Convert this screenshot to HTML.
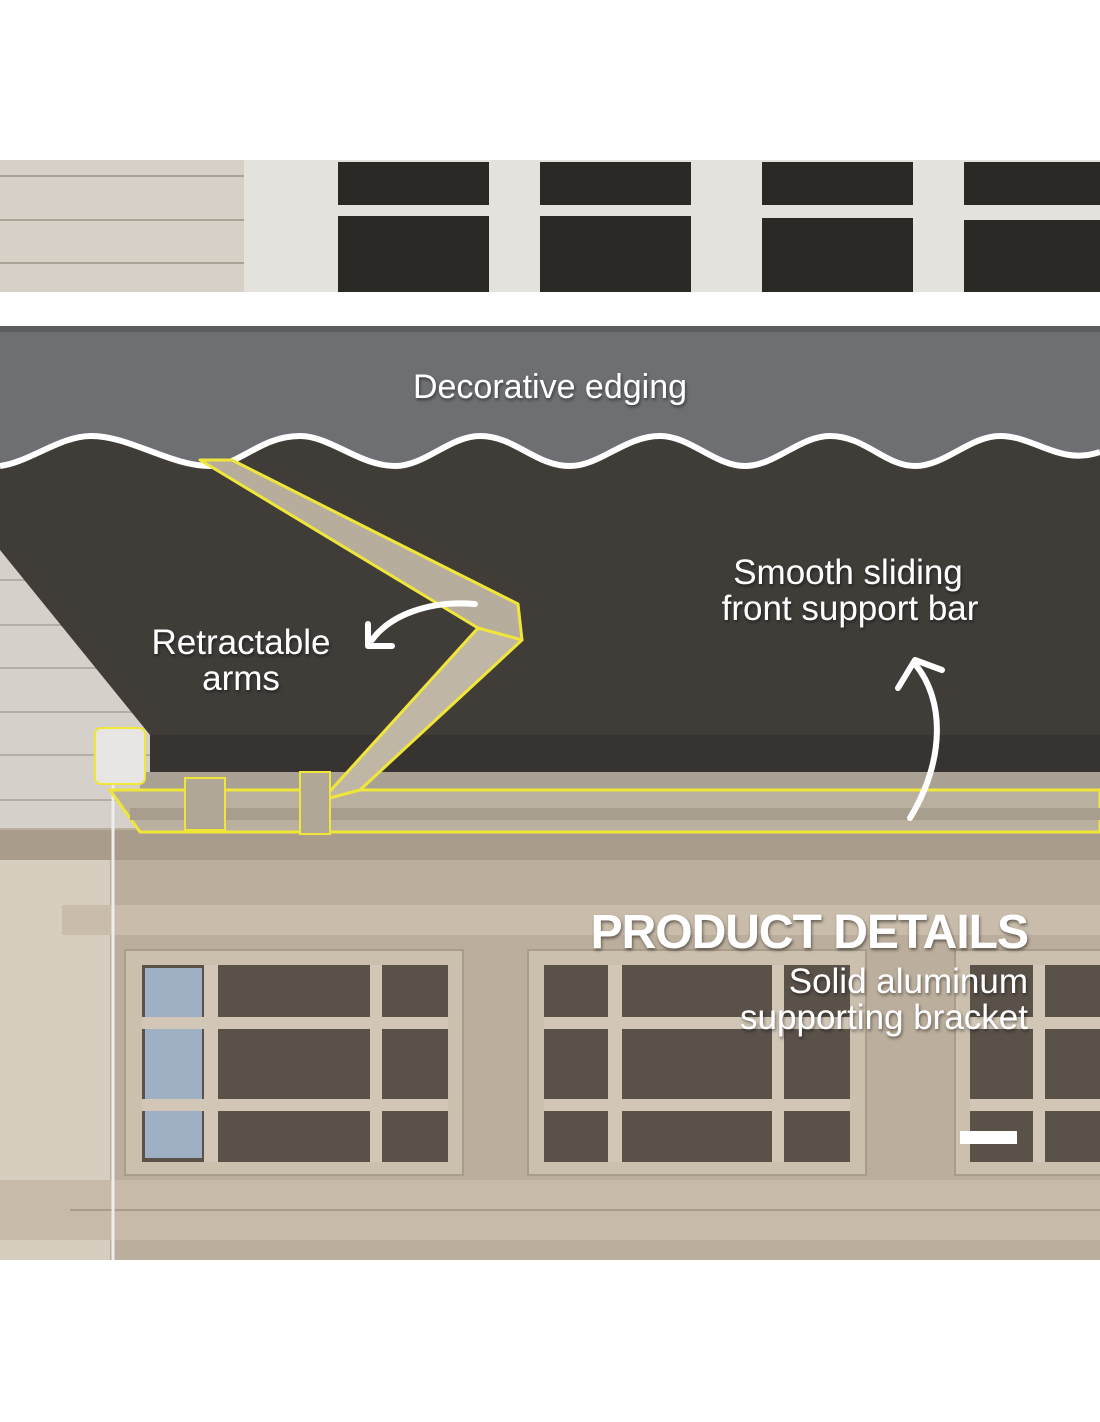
<!DOCTYPE html>
<html><head><meta charset="utf-8"><style>
html,body{margin:0;padding:0;background:#fff;}
svg{display:block}
text{font-family:"Liberation Sans",sans-serif;fill:#fff}
</style></head><body>
<svg width="1100" height="1422" viewBox="0 0 1100 1422" xmlns="http://www.w3.org/2000/svg">
<defs>
<filter id="sh" x="-10%" y="-10%" width="120%" height="140%"><feDropShadow dx="1" dy="2" stdDeviation="1.5" flood-color="#000" flood-opacity="0.5"/></filter>
</defs>
<rect x="0" y="0" width="1100" height="1422" fill="#fff"/>
<!-- top strip -->
<rect x="0" y="160" width="1100" height="132" fill="#e4e2dd"/>
<rect x="0" y="160" width="244" height="132" fill="#d6d0c6"/>
<g stroke="#a9a296" stroke-width="2"><line x1="0" y1="176" x2="244" y2="176"/><line x1="0" y1="220" x2="244" y2="220"/><line x1="0" y1="263" x2="244" y2="263"/></g>
<g fill="#2a2925">
<rect x="338" y="162" width="151" height="43"/><rect x="338" y="216" width="151" height="77"/>
<rect x="540" y="162" width="151" height="43"/><rect x="540" y="216" width="151" height="77"/>
<rect x="762" y="162" width="151" height="43"/><rect x="762" y="218" width="151" height="76"/>
<rect x="964" y="162" width="136" height="43"/><rect x="964" y="220" width="136" height="75"/>
</g>
<rect x="0" y="292" width="1100" height="34" fill="#fff"/>
<!-- siding left -->
<rect x="0" y="470" width="160" height="380" fill="#d5d1ca"/>
<g stroke="#b3ada3" stroke-width="2"><line x1="0" y1="580" x2="160" y2="580"/><line x1="0" y1="625" x2="160" y2="625"/><line x1="0" y1="668" x2="160" y2="668"/><line x1="0" y1="712" x2="160" y2="712"/><line x1="0" y1="755" x2="160" y2="755"/><line x1="0" y1="800" x2="160" y2="800"/></g>
<!-- wall below -->
<rect x="0" y="828" width="1100" height="432" fill="#bcae9c"/>
<rect x="0" y="830" width="1100" height="30" fill="#a99c8a"/>
<rect x="0" y="860" width="110" height="400" fill="#d6cebf"/>
<rect x="62" y="905" width="1038" height="30" fill="#c9bcaa"/>
<rect x="0" y="1180" width="1100" height="60" fill="#c7baa8"/>
<line x1="70" y1="1210" x2="1100" y2="1210" stroke="#a99c8a" stroke-width="2"/>
<!-- dark fabric -->
<path d="M0,430 L1100,430 L1100,772 L150,772 L150,735 L0,550 Z" fill="#403d39"/>
<rect x="150" y="735" width="950" height="37" fill="#363330"/>
<!-- valance with wave -->
<path d="M0,466 C30,462 60,436 91,436 C130,436 170,466 210,466 C240,466 260,436 300,436 C330,436 360,466 395,466 C425,466 450,436 480,436 C515,436 535,466 570,466 C600,466 625,436 660,436 C690,436 715,466 745,466 C775,466 800,436 830,436 C865,436 885,466 915,466 C945,466 970,436 1000,436 C1035,436 1060,466 1100,452 L1100,326 L0,326 Z" fill="#6d6f73"/>
<path d="M0,466 C30,462 60,436 91,436 C130,436 170,466 210,466 C240,466 260,436 300,436 C330,436 360,466 395,466 C425,466 450,436 480,436 C515,436 535,466 570,466 C600,466 625,436 660,436 C690,436 715,466 745,466 C775,466 800,436 830,436 C865,436 885,466 915,466 C945,466 970,436 1000,436 C1035,436 1060,466 1100,452" fill="none" stroke="#fff" stroke-width="6"/>
<rect x="0" y="326" width="1100" height="6" fill="#5c5e62"/>
<!-- windows -->
<g>
<rect x="125" y="950" width="338" height="225" fill="#cbbfae" stroke="#a99c8a" stroke-width="2"/>
<rect x="142" y="965" width="306" height="197" fill="#5a5149"/>
<rect x="145" y="968" width="57" height="190" fill="#9fb0c4"/>
<g fill="#d2c7b7"><rect x="204" y="965" width="14" height="197"/><rect x="370" y="965" width="12" height="197"/><rect x="142" y="1017" width="306" height="12"/><rect x="142" y="1099" width="306" height="12"/></g>
<rect x="528" y="950" width="338" height="225" fill="#cbbfae" stroke="#a99c8a" stroke-width="2"/>
<rect x="544" y="965" width="306" height="197" fill="#5a5149"/>
<g fill="#d2c7b7"><rect x="608" y="965" width="14" height="197"/><rect x="772" y="965" width="12" height="197"/><rect x="544" y="1017" width="306" height="12"/><rect x="544" y="1099" width="306" height="12"/></g>
<rect x="955" y="950" width="150" height="225" fill="#cbbfae" stroke="#a99c8a" stroke-width="2"/>
<rect x="970" y="965" width="130" height="197" fill="#5a5149"/>
<g fill="#d2c7b7"><rect x="1033" y="965" width="12" height="197"/><rect x="970" y="1017" width="130" height="12"/><rect x="970" y="1099" width="130" height="12"/></g>
<rect x="960" y="1131" width="57" height="13" fill="#fff"/>
</g>
<line x1="113" y1="780" x2="113" y2="1260" stroke="#eee" stroke-width="3"/>
<!-- front bar -->
<rect x="140" y="772" width="960" height="20" fill="#a8a194"/>
<path d="M110,790 L1100,790 L1100,832 L140,832 Z" fill="#b9b0a0" stroke="#f0e63a" stroke-width="3"/>
<rect x="130" y="808" width="970" height="12" fill="#a79e8e"/>
<rect x="95" y="728" width="50" height="56" rx="6" fill="#e8e6e2" stroke="#f0e63a" stroke-width="2"/>
<!-- arms -->
<path d="M200,460 L232,460 L518,604 L522,640 L500,636 L478,628 Z" fill="#b7ad9c" stroke="#f0e63a" stroke-width="3" stroke-linejoin="round"/>
<path d="M478,628 L522,640 L360,790 L322,800 Z" fill="#c0b6a5" stroke="#f0e63a" stroke-width="3" stroke-linejoin="round"/>
<rect x="300" y="772" width="30" height="62" fill="#b1a796" stroke="#f0e63a" stroke-width="2"/>
<rect x="185" y="778" width="40" height="52" fill="#b1a796" stroke="#f0e63a" stroke-width="2"/>
<!-- arrows -->
<path d="M475,604 C430,600 390,615 372,640" fill="none" stroke="#fff" stroke-width="6" stroke-linecap="round"/>
<path d="M368,624 L368,646 L392,646" fill="none" stroke="#fff" stroke-width="6" stroke-linecap="round" stroke-linejoin="round"/>
<path d="M910,818 C945,760 945,700 915,664" fill="none" stroke="#fff" stroke-width="6" stroke-linecap="round"/>
<path d="M898,688 L915,660 L942,670" fill="none" stroke="#fff" stroke-width="6" stroke-linecap="round" stroke-linejoin="round"/>
<!-- labels -->
<g filter="url(#sh)">
<text x="550" y="398" font-size="34" text-anchor="middle">Decorative edging</text>
<text x="241" y="654" font-size="35" text-anchor="middle">Retractable</text>
<text x="241" y="690" font-size="35" text-anchor="middle">arms</text>
<text x="848" y="584" font-size="35" text-anchor="middle">Smooth sliding</text>
<text x="850" y="620" font-size="35" text-anchor="middle">front support bar</text>
<text x="1028" y="948" font-size="48" font-weight="bold" text-anchor="end" letter-spacing="-1">PRODUCT DETAILS</text>
<text x="1028" y="993" font-size="35" text-anchor="end">Solid aluminum</text>
<text x="1028" y="1029" font-size="35" text-anchor="end">supporting bracket</text>
</g>
</svg>
</body></html>
